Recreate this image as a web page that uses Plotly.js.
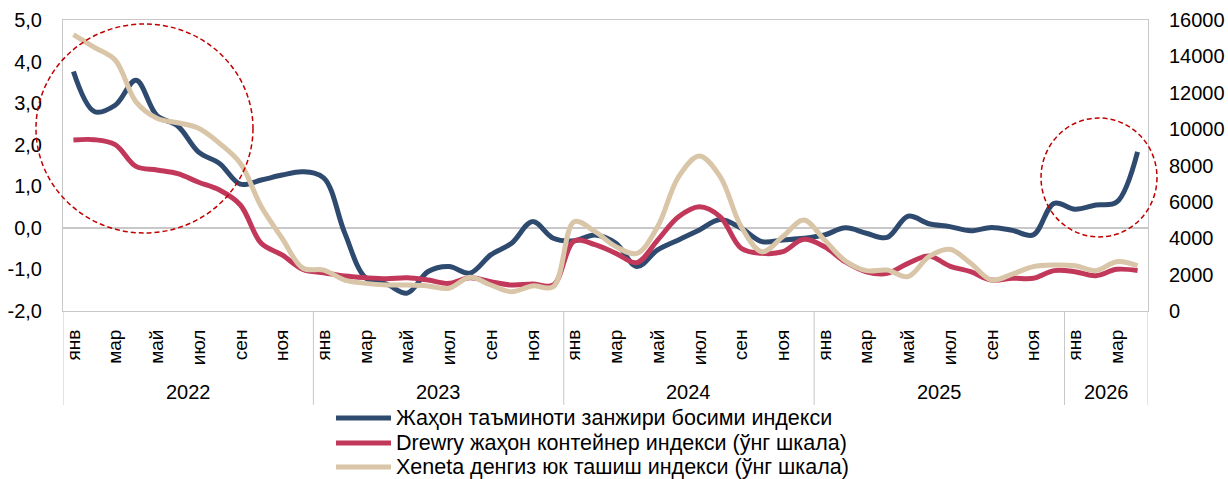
<!DOCTYPE html>
<html>
<head>
<meta charset="utf-8">
<script src="https://cdn.plot.ly/plotly-3.0.1.min.js"></script>
<style>
  html, body { margin: 0; padding: 0; background: #ffffff; }
  #chart { width: 1228px; height: 479px; }
</style>
</head>
<body>
<div id="chart"></div>
<script>
// Month names (labels are shown every second month)
const monthNames = ['янв', 'фев', 'мар', 'апр', 'май', 'июн', 'июл', 'авг', 'сен', 'окт', 'ноя', 'дек'];
const years = ['2022', '2023', '2024', '2025', '2026'];
const monthsInYear = [12, 12, 12, 12, 4];

// Series names
const seriesNames = [
  'Жаҳон таъминоти занжири босими индекси',
  'Drewry жаҳон контейнер индекси (ўнг шкала)',
  'Xeneta денгиз юк ташиш индекси (ўнг шкала)'
];

// Global supply chain pressure index (left scale), Jan 2022 – Apr 2026
const gscpi = [
  3.76, 2.80, 2.95, 3.55, 2.70, 2.45, 1.82, 1.55, 1.05, 1.15, 1.27, 1.35,
  1.20, -0.12, -1.20, -1.35, -1.57, -1.05, -0.93, -1.09, -0.65, -0.37, 0.15, -0.25,
  -0.31, -0.17, -0.37, -0.93, -0.53, -0.29, -0.05, 0.20, -0.01, -0.33, -0.29, -0.25,
  -0.17, 0.00, -0.13, -0.23, 0.28, 0.10, 0.03, -0.07, 0.01, -0.06, -0.17, 0.59,
  0.45, 0.55, 0.62, 1.83
];

// Drewry world container index (right scale)
const drewry = [
  9400, 9420, 9150, 7950, 7750, 7550, 7080, 6650, 5830, 3720, 3080, 2290,
  2100, 1920, 1830, 1780, 1830, 1700, 1520, 1830, 1610, 1430, 1480, 1430,
  3850, 3650, 3170, 2660, 3900, 5180, 5730, 5180, 3450, 3170, 3260, 3940,
  3530, 2700, 2160, 2070, 2620, 3020, 2470, 2160, 1700, 1800, 1800, 2220,
  2160, 1940, 2290, 2220
];

// Xeneta ocean freight index (right scale)
const xeneta = [
  15200, 14500, 13800, 11500, 10600, 10350, 10050, 9220, 8120, 5740, 4000, 2350,
  2250, 1700, 1520, 1430, 1430, 1380, 1250, 1850, 1430, 1060, 1380, 1340,
  4910, 4360, 3540, 3170, 4640, 7380, 8520, 7380, 4640, 3260, 4090, 5000,
  3900, 2750, 2220, 2250, 1890, 2990, 3390, 2620, 1700, 2030, 2440, 2530,
  2490, 2220, 2710, 2490
];

// Axis tick values and labels
const leftTicks = [-2, -1, 0, 1, 2, 3, 4, 5];
const leftTickText = ['-2,0', '-1,0', '0,0', '1,0', '2,0', '3,0', '4,0', '5,0'];
const rightTicks = [0, 2000, 4000, 6000, 8000, 10000, 12000, 14000, 16000];
const rightTickText = ['0', '2000', '4000', '6000', '8000', '10000', '12000', '14000', '16000'];

const colors = ['#2E4A6F', '#C2385A', '#D9C5A7'];
const FONT = 'Liberation Sans, Arial, sans-serif';
const GRID = '#C8C8C8';

// Month index for every observation, and its calendar month
const xIdx = [];
const monthOfIdx = [];
years.forEach((y, yi) => {
  for (let m = 0; m < monthsInYear[yi]; m++) {
    monthOfIdx.push(m);
    xIdx.push(xIdx.length);
  }
});
const tickVals = xIdx.filter(i => monthOfIdx[i] % 2 === 0);
const tickText = tickVals.map(i => monthNames[monthOfIdx[i]]);

const traces = [
  { x: xIdx, y: gscpi, yaxis: 'y', name: seriesNames[0] },
  { x: xIdx, y: drewry, yaxis: 'y2', name: seriesNames[1] },
  { x: xIdx, y: xeneta, yaxis: 'y2', name: seriesNames[2] }
].map((t, i) => Object.assign(t, {
  type: 'scatter',
  mode: 'lines',
  line: { color: colors[i], width: 5, shape: 'spline', smoothing: 1 },
  hoverinfo: 'skip',
  showlegend: false
}));

// Year group dividers below the axis and year labels
const shapes = [];
const annotations = [];
let start = 0;
const divDepth = -0.323;
shapes.push({ type: 'line', xref: 'x', yref: 'paper', x0: -0.5, x1: -0.5, y0: 0, y1: divDepth,
  line: { color: GRID, width: 1 } });
years.forEach((y, yi) => {
  const end = start + monthsInYear[yi];
  shapes.push({ type: 'line', xref: 'x', yref: 'paper', x0: end - 0.5, x1: end - 0.5, y0: 0, y1: divDepth,
    line: { color: GRID, width: 1 } });
  annotations.push({ xref: 'x', yref: 'paper', x: (start + end - 1) / 2, y: -0.278,
    text: y, showarrow: false, xanchor: 'center', yanchor: 'middle',
    font: { family: FONT, size: 20, color: '#000' } });
  start = end;
});

// Dashed highlight circles
const circleLine = { color: '#C00000', width: 1.5, dash: '5px,3px' };
shapes.push({ type: 'circle', xref: 'paper', yref: 'paper',
  x0: -0.0249, x1: 0.1751, y0: 0.268, y1: 0.9863, line: circleLine });
shapes.push({ type: 'circle', xref: 'paper', yref: 'paper',
  x0: 0.9014, x1: 1.0083, y0: 0.2543, y1: 0.6632, line: circleLine });

// Legend below the chart
const legendY = [-0.3677, -0.4536, -0.5361];
seriesNames.forEach((name, i) => {
  shapes.push({ type: 'line', xref: 'paper', yref: 'paper',
    x0: 0.2516, x1: 0.3023, y0: legendY[i], y1: legendY[i],
    line: { color: colors[i], width: 5 } });
  annotations.push({ xref: 'paper', yref: 'paper', x: 0.3051, y: legendY[i],
    text: name, showarrow: false, xanchor: 'left', yanchor: 'middle',
    font: { family: FONT, size: 21.5, color: '#000' } });
});

const layout = {
  width: 1228,
  height: 479,
  autosize: false,
  margin: { l: 63, r: 80, t: 20, b: 168, pad: 0 },
  paper_bgcolor: '#ffffff',
  plot_bgcolor: '#ffffff',
  font: { family: FONT, color: '#000' },
  showlegend: false,
  xaxis: {
    range: [-0.5, xIdx.length - 0.5],
    tickmode: 'array',
    tickvals: tickVals,
    ticktext: tickText,
    tickangle: -90,
    ticks: 'outside',
    ticklen: 10,
    tickcolor: 'rgba(0,0,0,0)',
    tickfont: { family: FONT, size: 19, color: '#000' },
    showgrid: false,
    zeroline: false,
    showline: true,
    mirror: true,
    linecolor: GRID,
    linewidth: 1,
    fixedrange: true
  },
  yaxis: {
    range: [-2, 5],
    tickmode: 'array',
    tickvals: leftTicks,
    ticktext: leftTickText,
    ticks: 'outside',
    ticklen: 16,
    tickcolor: 'rgba(0,0,0,0)',
    tickfont: { family: FONT, size: 20, color: '#000' },
    showgrid: false,
    zeroline: true,
    zerolinecolor: GRID,
    zerolinewidth: 1.5,
    showline: true,
    mirror: true,
    linecolor: GRID,
    linewidth: 1,
    fixedrange: true
  },
  yaxis2: {
    range: [0, 16000],
    overlaying: 'y',
    side: 'right',
    tickmode: 'array',
    tickvals: rightTicks,
    ticktext: rightTickText,
    ticks: 'outside',
    ticklen: 16,
    tickcolor: 'rgba(0,0,0,0)',
    tickfont: { family: FONT, size: 20, color: '#000' },
    showgrid: false,
    zeroline: false,
    showline: false,
    fixedrange: true
  },
  shapes: shapes,
  annotations: annotations
};

Plotly.newPlot('chart', traces, layout, { displayModeBar: false, staticPlot: true });
</script>
</body>
</html>
